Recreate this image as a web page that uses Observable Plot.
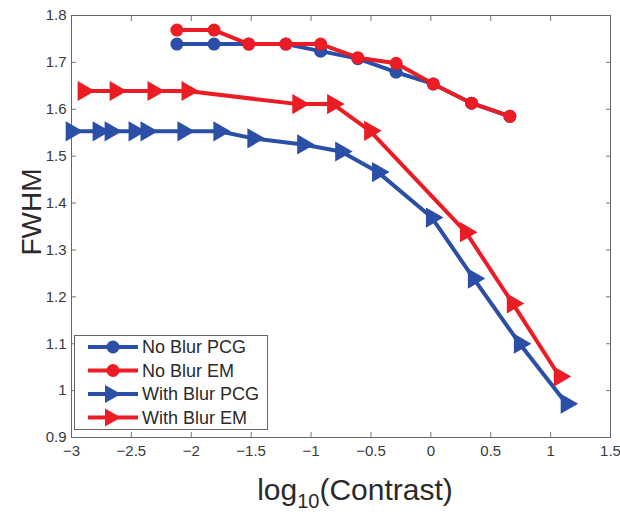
<!DOCTYPE html>
<html>
<head>
<meta charset="utf-8">
<script src="https://cdn.jsdelivr.net/npm/d3@7"></script>
<script src="https://cdn.jsdelivr.net/npm/@observablehq/plot@0.6"></script>
<style>
  html, body { margin: 0; padding: 0; background: #fff; }
  #wrap { position: relative; width: 620px; height: 512px; font-family: "Liberation Sans", Arial, sans-serif; }
  #legend { position: absolute; left: 74px; top: 335px; width: 194px; height: 95px; box-sizing: border-box; border: 1px solid #666; background: #fff; }
</style>
</head>
<body>
<div id="wrap"></div>
<script>
// ---- data ----
const noBlurX   = [-2.12, -1.81, -1.52, -1.21, -0.92, -0.61, -0.29, 0.02, 0.34, 0.66];
const noBlurPCG = [1.739, 1.739, 1.739, 1.739, 1.724, 1.708, 1.679, 1.654, 1.613, 1.585];
const noBlurEM  = [1.769, 1.769, 1.739, 1.739, 1.739, 1.710, 1.698, 1.654, 1.613, 1.585];
const blurPCGX  = [-3.0, -2.775, -2.675, -2.475, -2.375, -2.067, -1.767, -1.483, -1.067, -0.75, -0.442, 0.008, 0.358, 0.742, 1.133];
const blurPCGY  = [1.553, 1.553, 1.553, 1.553, 1.553, 1.553, 1.553, 1.538, 1.525, 1.51, 1.466, 1.369, 1.239, 1.10, 0.972];
const blurEMX   = [-2.9, -2.633, -2.317, -2.033, -1.108, -0.817, -0.508, 0.292, 0.683, 1.075];
const blurEMY   = [1.639, 1.639, 1.639, 1.639, 1.611, 1.611, 1.554, 1.338, 1.186, 1.030];
const seriesNames = ["No Blur PCG", "No Blur EM", "With Blur PCG", "With Blur EM"];
const xTicks = [-3, -2.5, -2, -1.5, -1, -0.5, 0, 0.5, 1, 1.5];
const yTicks = [0.9, 1, 1.1, 1.2, 1.3, 1.4, 1.5, 1.6, 1.7, 1.8];
const xLabel = ["log", "10", "(Contrast)"];
const yLabel = "FWHM";

const BLUE = "#2b4ea6", RED = "#ec1c24";
const zip = (xs, ys) => xs.map((x, i) => ({x, y: ys[i]}));
const s1 = zip(noBlurX, noBlurPCG), s2 = zip(noBlurX, noBlurEM);
const s3 = zip(blurPCGX, blurPCGY), s4 = zip(blurEMX, blurEMY);
const fmt = d => String(+d.toFixed(2)).replace("-", "\u2212");

const axisCommon = {tickSize: -5, stroke: "#777", label: null};
const plot = Plot.plot({
  width: 620, height: 512,
  marginLeft: 71, marginRight: 10, marginTop: 15, marginBottom: 75,
  style: {fontFamily: "'Liberation Sans', Arial, sans-serif", fontSize: "15px", color: "#3a3a3a", background: "#fff"},
  x: {domain: [-3, 1.5]},
  y: {domain: [0.9, 1.8]},
  marks: [
    Plot.axisX(xTicks, {...axisCommon, anchor: "bottom", tickPadding: 13, tickFormat: fmt}),
    Plot.axisX(xTicks, {...axisCommon, anchor: "top", tickFormat: () => ""}),
    Plot.axisY(yTicks, {...axisCommon, anchor: "left", tickPadding: 10, tickFormat: fmt}),
    Plot.axisY(yTicks, {...axisCommon, anchor: "right", tickFormat: () => ""}),
    Plot.frame({stroke: "#666"}),
    Plot.line(s1, {x: "x", y: "y", stroke: BLUE, strokeWidth: 4}),
    Plot.dot(s1, {x: "x", y: "y", fill: BLUE, r: 6.5}),
    Plot.line(s2, {x: "x", y: "y", stroke: RED, strokeWidth: 4}),
    Plot.dot(s2, {x: "x", y: "y", fill: RED, r: 6.5}),
    Plot.line(s3, {x: "x", y: "y", stroke: BLUE, strokeWidth: 4}),
    Plot.dot(s3, {x: "x", y: "y", fill: BLUE, symbol: "triangle", rotate: 90, r: 7.5}),
    Plot.line(s4, {x: "x", y: "y", stroke: RED, strokeWidth: 4}),
    Plot.dot(s4, {x: "x", y: "y", fill: RED, symbol: "triangle", rotate: 90, r: 7.5})
  ]
});
const wrap = document.getElementById("wrap");
wrap.appendChild(plot);

// axis titles
const svg = d3.select(plot);
const xt = svg.append("text").attr("x", 355).attr("y", 500).attr("text-anchor", "middle")
  .attr("font-size", 30).attr("fill", "#2a2a2a");
xt.append("tspan").text(xLabel[0]);
xt.append("tspan").attr("font-size", 20).attr("dy", 8).text(xLabel[1]);
xt.append("tspan").attr("dy", -8).text(xLabel[2]);
svg.append("text").attr("transform", "translate(41,212) rotate(-90)").attr("text-anchor", "middle")
  .attr("font-size", 28).attr("fill", "#2a2a2a").text(yLabel);

// legend
const leg = document.createElement("div");
leg.id = "legend";
wrap.appendChild(leg);
const colors = [BLUE, RED, BLUE, RED];
const shapes = ["circle", "circle", "tri", "tri"];
const ls = d3.select(leg).append("svg").attr("width", 192).attr("height", 93);
seriesNames.forEach((name, i) => {
  const cy = 11 + i * 23.5;
  const g = ls.append("g").attr("transform", `translate(0,${cy})`);
  g.append("line").attr("x1", 13).attr("x2", 63).attr("stroke", colors[i]).attr("stroke-width", 4);
  if (shapes[i] === "circle") g.append("circle").attr("cx", 38).attr("r", 6.5).attr("fill", colors[i]);
  else g.append("path").attr("d", "M30,-9L46,0L30,9Z").attr("fill", colors[i]);
  g.append("text").attr("x", 67).attr("y", 6).attr("font-size", 18).attr("fill", "#2a2a2a").text(name);
});
</script>
</body>
</html>
